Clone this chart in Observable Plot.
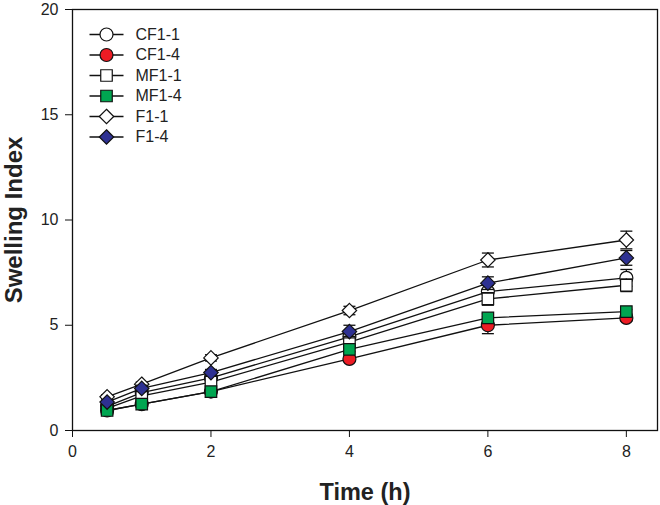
<!DOCTYPE html>
<html>
<head>
<meta charset="utf-8">
<script src="https://cdn.jsdelivr.net/npm/d3@7"></script>
<script src="https://cdn.jsdelivr.net/npm/@observablehq/plot@0.6"></script>
<style>
  html, body { margin: 0; padding: 0; background: white; }
</style>
</head>
<body>
<div id="chart"></div>
<script>
// ---- Data ----
const times = [0.5, 1, 2, 4, 6, 8];
const seriesNames = ["CF1-1", "CF1-4", "MF1-1", "MF1-4", "F1-1", "F1-4"];

const cf11 = [1.15, 1.8, 2.5, 4.45, 6.6, 7.25];
const cf14 = [0.95, 1.25, 1.85, 3.4, 5.0, 5.35];
const mf11 = [1.05, 1.65, 2.3, 4.2, 6.25, 6.9];
const mf14 = [0.95, 1.25, 1.85, 3.85, 5.35, 5.65];
const f11  = [1.6, 2.2, 3.45, 5.7, 8.1, 9.05];
const f14  = [1.35, 2.0, 2.75, 4.7, 7.0, 8.2];

const cf11Err = [0.05, 0.1, 0.1, 0.2, 0.3, 0.4];
const cf14Err = [0.05, 0.05, 0.1, 0.1, 0.4, 0.15];
const mf11Err = [0.05, 0.1, 0.1, 0.2, 0.3, 0.3];
const mf14Err = [0.05, 0.05, 0.1, 0.1, 0.2, 0.1];
const f11Err  = [0.1, 0.1, 0.15, 0.2, 0.33, 0.42];
const f14Err  = [0.1, 0.15, 0.15, 0.3, 0.3, 0.35];

const xTicks = [0, 2, 4, 6, 8];
const yTicks = [0, 5, 10, 15, 20];

const values = [cf11, cf14, mf11, mf14, f11, f14];
const errors = [cf11Err, cf14Err, mf11Err, mf14Err, f11Err, f14Err];
const symbols = ["circle", "circle", "square", "square", "diamond2", "diamond2"];
const fills = ["white", "#ED1C24", "white", "#00A651", "white", "#2E3192"];

// custom symbols
const capSymbol = { draw(ctx, size) { const w = 6; ctx.moveTo(-w, 0); ctx.lineTo(w, 0); } };
const legendLineSymbol = { draw(ctx, size) { const w = 17; ctx.moveTo(-w, 0); ctx.lineTo(w, 0); } };

const marks = [];

seriesNames.forEach((name, i) => {
  const rows = times.map((t, j) => ({ t, v: values[i][j], e: errors[i][j] }));
  marks.push(Plot.line(rows, { x: "t", y: "v", stroke: "#111", strokeWidth: 1.3 }));
});

seriesNames.forEach((name, i) => {
  const rows = times.map((t, j) => ({ t, v: values[i][j], e: errors[i][j] }));
  marks.push(Plot.ruleX(rows, { x: "t", y1: d => d.v - d.e, y2: d => d.v + d.e, stroke: "#111", strokeWidth: 1.2 }));
  marks.push(Plot.dot(rows, { x: "t", y: d => d.v + d.e, symbol: capSymbol, stroke: "#111", strokeWidth: 1.3, r: 3 }));
  marks.push(Plot.dot(rows, { x: "t", y: d => d.v - d.e, symbol: capSymbol, stroke: "#111", strokeWidth: 1.3, r: 3 }));
  marks.push(Plot.dot(rows, { x: "t", y: "v", symbol: symbols[i], fill: fills[i], stroke: "#111", strokeWidth: 1.2, r: 6.5 }));
});

// legend (inside frame, top-left)
seriesNames.forEach((name, i) => {
  const dy = 25 + 20.5 * i;
  marks.push(Plot.dot([name], { frameAnchor: "top-left", dx: 34, dy, symbol: legendLineSymbol, stroke: "#111", strokeWidth: 1.3, r: 3 }));
  marks.push(Plot.dot([name], { frameAnchor: "top-left", dx: 34, dy, symbol: symbols[i], fill: fills[i], stroke: "#111", strokeWidth: 1.2, r: 6.5 }));
  marks.push(Plot.text([name], { frameAnchor: "top-left", dx: 63, dy, text: d => d, textAnchor: "start", lineAnchor: "middle", fontSize: 16, fill: "#222" }));
});

marks.push(Plot.frame({ stroke: "#111", strokeWidth: 1.3 }));
marks.push(Plot.axisX({ ticks: xTicks, tickSize: 7, tickPadding: 8, label: null, fontSize: 16, stroke: "#111", fill: "#222" }));
marks.push(Plot.axisY({ ticks: yTicks, tickSize: 7, tickPadding: 7, label: null, fontSize: 16, stroke: "#111", fill: "#222" }));
marks.push(Plot.text(["Swelling Index"], { frameAnchor: "left", dx: -58, rotate: -90, textAnchor: "middle", lineAnchor: "middle", fontSize: 24, fontWeight: "bold", fill: "#222" }));
marks.push(Plot.text(["Time (h)"], { frameAnchor: "bottom", dy: 62, textAnchor: "middle", lineAnchor: "middle", fontSize: 23.5, fontWeight: "bold", fill: "#222" }));

const chart = Plot.plot({
  width: 660,
  height: 505,
  marginLeft: 72,
  marginRight: 3,
  marginTop: 9,
  marginBottom: 75,
  x: { domain: [0, 8.45] },
  y: { domain: [0, 20] },
  style: { fontFamily: "'Liberation Sans', Arial, sans-serif", fontSize: "16px", background: "white", color: "#222" },
  marks
});
document.getElementById("chart").appendChild(chart);
</script>
</body>
</html>
